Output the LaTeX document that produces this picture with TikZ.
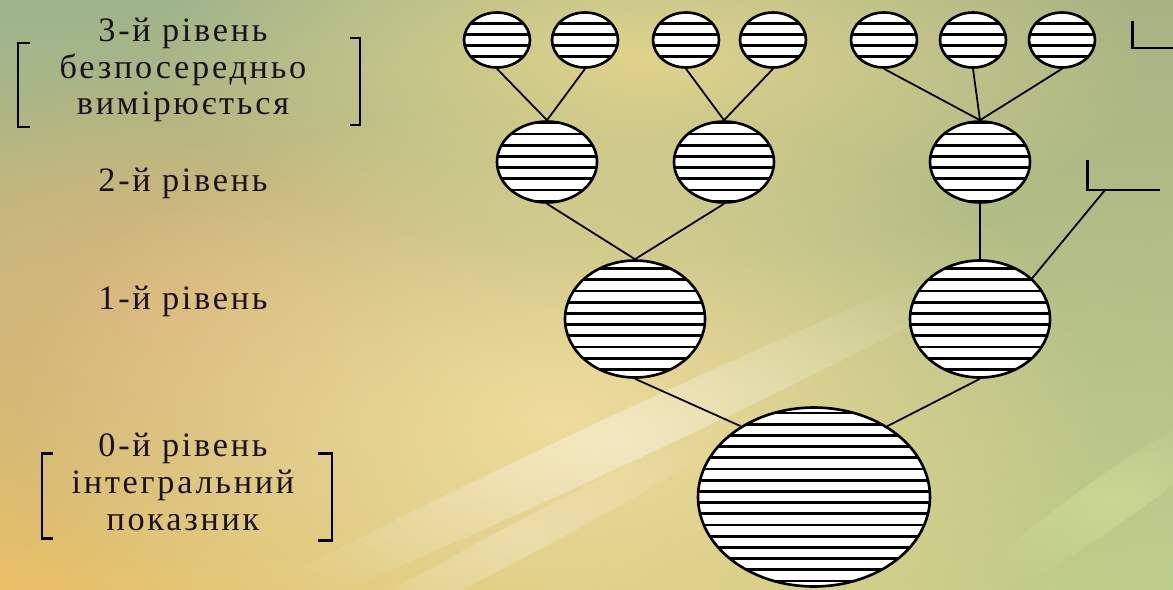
\documentclass[tikz,border=0pt]{standalone}
\usepackage{fontspec}
\newfontfamily\lblfont[LetterSpace=8]{Liberation Serif}
\usetikzlibrary{shapes.geometric,shadings,fadings}

\definecolor{ink}{HTML}{1A1218}
\definecolor{bgul}{HTML}{9DB48C}
\definecolor{bgur}{HTML}{A8B383}
\definecolor{bgll}{HTML}{EAC068}
\definecolor{bglr}{HTML}{BCCE8C}
\definecolor{glow}{HTML}{F0DC9C}
\definecolor{haze}{HTML}{E0D38C}
\definecolor{tan}{HTML}{DAB57A}
\definecolor{leaf}{HTML}{D2E29C}
\tikzfading[name=softglow, inner color=transparent!0, outer color=transparent!100]

\begin{document}
\begin{tikzpicture}[x=0.02cm, y=-0.02cm,
  every node/.style={font={\lblfont\fontsize{19.5}{21}\selectfont}, text=ink},
  stripes/.style={path picture={
    \foreach \k [evaluate=\k as \off using (\k+0.5)*2.24] in {-9,...,8}
      \draw[line width=1.5pt] ([yshift=\off mm]path picture bounding box.west)
        -- ([yshift=\off mm]path picture bounding box.east);}},
  disc/.style={ellipse, draw, line width=1.5pt, fill=white, inner sep=0pt, stripes},
  small/.style={disc, minimum width=1.32cm, minimum height=1.1cm},
  mid/.style={disc, minimum width=2.0cm, minimum height=1.62cm},
  big/.style={disc, minimum width=2.8cm, minimum height=2.34cm},
  link/.style={line width=1pt},
  brk/.style={line width=1.7pt}]

  % Background
  \useasboundingbox (0,0) rectangle (1173,589);
  \shade[upper left=bgul, upper right=bgur, lower left=bgll, lower right=bglr]
    (0,0) rectangle (1173,589);
  \fill[tan, path fading=softglow] (170,320) ellipse [x radius=7cm, y radius=5cm];
  \fill[haze, path fading=softglow] (650,60) ellipse [x radius=10cm, y radius=4cm];
  \fill[glow, path fading=softglow] (560,420) ellipse [x radius=11cm, y radius=6.5cm];
  \fill[white, opacity=0.4, path fading=softglow, rotate around={25:(620,440)}]
    (620,440) ellipse [x radius=10cm, y radius=0.5cm];
  \fill[white, opacity=0.25, path fading=softglow, rotate around={28:(520,540)}]
    (520,540) ellipse [x radius=6cm, y radius=0.35cm];
  \fill[leaf, opacity=0.6, path fading=softglow, rotate around={35:(1110,500)}]
    (1110,500) ellipse [x radius=3.5cm, y radius=0.5cm];

  % Nodes
  \node[small] (t1) at (497,40) {};
  \node[small] (t2) at (585,40) {};
  \node[small] (t3) at (686,40) {};
  \node[small] (t4) at (773,40) {};
  \node[small] (t5) at (884,40) {};
  \node[small] (t6) at (973,40) {};
  \node[small] (t7) at (1062,40) {};

  \node[mid] (m1) at (547,162) {};
  \node[mid] (m2) at (724,162) {};
  \node[mid] (m3) at (980,162) {};

  \node[big] (b1) at (635,319) {};
  \node[big] (b2) at (980,319) {};

  \node[disc, minimum width=4.64cm, minimum height=3.58cm] (root) at (814,497) {};

  % Cut-off branches
  \draw[brk] (1132,21) |- (1173,48);
  \draw[brk] (1087,160) |- (1160,190);
  \coordinate (cut) at (1105,190);

  % Edges
  \draw[link] (t1.south) -- (m1.north);
  \draw[link] (t2.south) -- (m1.north);
  \draw[link] (t3.south) -- (m2.north);
  \draw[link] (t4.south) -- (m2.north);
  \draw[link] (t5.south) -- (m3.north);
  \draw[link] (t6.south) -- (m3.north);
  \draw[link] (t7.south) -- (m3.north);
  \draw[link] (m1.south) -- (b1.north);
  \draw[link] (m2.south) -- (b1.north);
  \draw[link] (m3.south) -- (b2.north);
  \draw[link] (cut) -- (b2.38);
  \draw[link] (b1.south) -- (root.136);
  \draw[link] (b2.south) -- (root.44);

  % Levels
  \node[align=center] (lv3) at (183,70) {3-й рівень\\безпосередньо\\вимірюється};
  \node (lv2) at (183,183) {2-й рівень};
  \node (lv1) at (183,301) {1-й рівень};
  \node[align=center] (lv0) at (183,482) {0-й рівень\\інтегральний\\показник};

  \draw[brk] (30,43) -| (18,127) -- (30,127);
  \draw[brk] (350,38) -| (360,125) -- (350,125);
  \draw[brk] (53,453) -| (42,538) -- (53,538);
  \draw[brk] (318,453) -| (332,540) -- (318,540);
\end{tikzpicture}
\end{document}
